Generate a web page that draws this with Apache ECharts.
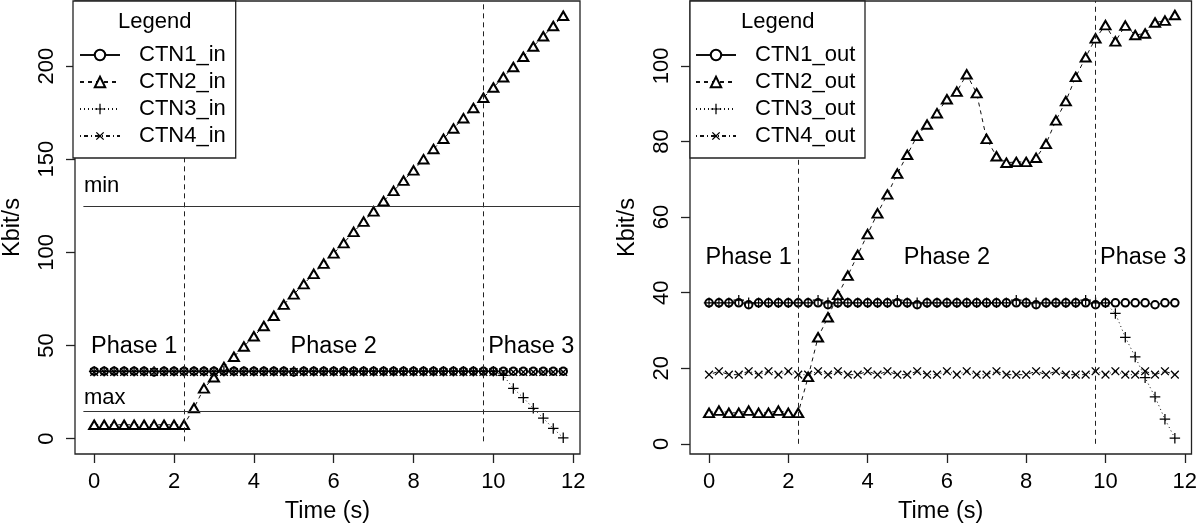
<!DOCTYPE html>
<html><head><meta charset="utf-8">
<script src="https://cdn.jsdelivr.net/npm/echarts@6/dist/echarts.min.js"></script>
<style>html,body{margin:0;padding:0;background:#fff}#c{width:1200px;height:529px}</style>
</head><body><div id="c"></div>
<script>
// ---------- data ----------
const time = [0,0.25,0.5,0.75,1,1.25,1.5,1.75,2,2.25,2.5,2.75,3,3.25,3.5,3.75,4,4.25,4.5,4.75,5,5.25,5.5,5.75,6,6.25,6.5,6.75,7,7.25,7.5,7.75,8,8.25,8.5,8.75,9,9.25,9.5,9.75,10,10.25,10.5,10.75,11,11.25,11.5,11.75];

const ctn1In = [36.2,36.2,36.2,36.2,36.2,36.2,35.8,36.2,36.2,36.2,36.2,36.2,36.2,36.2,36.2,36.2,36.2,36.2,36.2,36.2,35.8,36.2,36.2,36.2,36.2,36.2,36.2,36.2,36.2,36.2,36.2,36.2,36.2,36.2,36.2,36.2,36.2,36.2,36.2,36.2,36.2,36.2,36.2,36.2,36.2,36.2,36.2,36.2];
const ctn2In = [7.5,7.5,7.5,7.5,7.5,7.5,7.5,7.5,7.5,7.5,16.5,27,33,38.5,44,49.5,55,60.5,66,72,77.5,83,88.5,94,99.5,105,111,116.5,122,127.5,133,138.5,144,150,155.5,161,166.5,172,177.5,183,188.5,194,199.5,205,210.5,216,221.5,227];
const ctn3In = [36.2,36.2,36.2,36.2,36.2,36.2,36.2,36.2,36.2,36.2,36.2,36.2,36.2,36.2,36.2,36.2,36.2,36.2,36.2,36.2,36.2,36.2,36.2,36.2,36.2,36.2,36.2,36.2,36.2,36.2,36.2,36.2,36.2,36.2,36.2,36.2,36.2,36.2,36.2,36.2,36.2,34,27,22,16.3,11,5.5,0.5];
const ctn4In = [35.8,35.8,35.8,35.8,35.8,35.8,35.8,35.8,35.8,35.8,35.8,35.8,35.8,35.8,35.8,35.8,35.8,35.8,35.8,35.8,35.8,35.8,35.8,35.8,35.8,35.8,35.8,35.8,35.8,35.8,35.8,35.8,35.8,35.8,35.8,35.8,35.8,35.8,35.8,35.8,35.8,35.8,35.8,35.8,35.8,35.8,35.8,35.8];

const ctn1Out = [37.3,37.3,37.3,37.3,36.8,37.3,37.3,37.3,37.3,37.3,37.3,37.3,36.8,37.3,37.3,37.3,37.3,37.3,37.3,37.3,37.3,36.8,37.3,37.3,37.3,37.3,37.3,37.3,37.3,37.3,37.3,37.3,37.3,36.8,37.3,37.3,37.3,37.3,37.3,36.8,37.3,37.3,37.3,37.3,37.3,36.8,37.3,37.3];
const ctn2Out = [8.2,8.8,8.2,8.2,8.8,8.2,8.2,8.8,8.2,8.2,17.7,28.2,33.5,39.4,44.5,50,55.5,61,66,71.5,76.5,81.5,84.5,87.5,91.2,93.2,97.8,92.8,80.7,76.1,74.4,74.6,74.6,75.7,79.4,85.6,90.7,97.1,102.3,107.3,110.8,106.5,110.7,108.2,108.6,111.5,112,113.5];
const ctn3Out = [37.3,37.3,37.3,38.0,37.3,37.3,37.3,37.3,37.3,37.3,37.3,38.0,37.3,37.3,37.3,37.3,37.3,37.3,37.3,38.0,37.3,37.3,37.3,37.3,37.3,37.3,37.3,37.3,37.3,37.3,37.3,38.0,37.3,37.3,37.3,37.3,37.3,37.3,38.0,37.3,37.3,34.5,28.2,23,17.5,12.4,6.5,1.5];
const ctn4Out = [18.3,19.2,18.3,18.3,19.2,18.3,19.2,18.3,19.2,18.3,18.3,19.2,18.3,19.2,18.3,18.3,19.2,18.3,19.2,18.3,18.3,19.2,18.3,18.3,19.2,18.3,19.2,18.3,18.3,19.2,18.3,18.3,18.3,19.2,18.3,19.2,18.3,18.3,18.3,19.2,18.3,19.2,18.3,18.3,19.2,18.3,19.2,18.3];

const xTicks = [0,2,4,6,8,10,12];
const yTicksIn = [0,50,100,150,200];
const yTicksOut = [0,20,40,60,80,100];
const xRange = [-0.48, 12.17];
const yRangeIn = [-8.2, 234.9];
const yRangeOut = [-2.7, 117.2];

const namesIn = ['CTN1_in','CTN2_in','CTN3_in','CTN4_in'];
const namesOut = ['CTN1_out','CTN2_out','CTN3_out','CTN4_out'];
const phaseNames = ['Phase 1','Phase 2','Phase 3'];
const phaseCenters = [1, 6, 10.95];
const phaseLevel = 49.3;
const phaseBounds = [2.25, 9.75];
const thresholdNames = ['min','max'];
const thresholdValues = [125, 15];
const thresholdLabelValues = [135.5, 22];
const thresholdStart = -0.27;

// ---------- styles ----------
const FONT = '"Liberation Sans", Arial, Helvetica, sans-serif';
const INK = '#000';
const PLUS = 'path://M4.4,0H5.6V4.4H10V5.6H5.6V10H4.4V5.6H0V4.4H4.4Z';
const seriesStyles = [
  {symbol:'emptyCircle', symbolSize:7.5, rotate:0, dash:'solid', bw:1},
  {symbol:'emptyTriangle', symbolSize:[10,8.5], rotate:0, dash:[4,4], bw:1},
  {symbol:PLUS, symbolSize:10.5, rotate:0, dash:[1,3], bw:0},
  {symbol:PLUS, symbolSize:11, rotate:45, dash:[1,3,4,3], bw:0}
];

function makeSeries(names, arrays, gi) {
  return names.map((n, k) => ({
    name: n, type: 'line', xAxisIndex: gi, yAxisIndex: gi,
    data: time.map((t, i) => [t, arrays[k][i]]),
    symbol: seriesStyles[k].symbol, symbolSize: seriesStyles[k].symbolSize,
    symbolRotate: seriesStyles[k].rotate, showAllSymbol: true,
    lineStyle: {color: '#111', width: 1, type: seriesStyles[k].dash},
    itemStyle: {color: INK, borderColor: INK, borderWidth: seriesStyles[k].bw},
    emphasis: {disabled: true}, silent: true, animation: false, z: 2 + k * 0.01
  }));
}

const labelBase = {show: true, color: INK, fontFamily: FONT, textBorderWidth: 0, opacity: 1};

function phaseSeries(gi, yMax, withThresholds) {
  const lines = phaseBounds.map(b => [{coord: [b, gi === 0 ? -1.4 : 0]}, {coord: [b, yMax]}]);
  const labels = phaseNames.map((p, i) => ({value: [phaseCenters[i], phaseLevel], name: p}));
  const out = [{
    type: 'scatter', xAxisIndex: gi, yAxisIndex: gi, silent: true, animation: false,
    symbolSize: 1, itemStyle: {color: 'rgba(255,255,255,0)'},
    data: labels,
    label: Object.assign({}, labelBase, {position: 'inside', formatter: '{b}', fontSize: 23.5}),
    markLine: {silent: true, symbol: ['none','none'], animation: false, label: {show: false},
      lineStyle: {color: '#222', width: 1, type: [5,4]}, data: lines},
    z: 3
  }];
  if (withThresholds) {
    out.push({
      type: 'scatter', xAxisIndex: gi, yAxisIndex: gi, silent: true, animation: false,
      symbolSize: 1, itemStyle: {color: 'rgba(255,255,255,0)'},
      data: thresholdNames.map((n, i) => ({value: [thresholdStart, thresholdLabelValues[i]], name: n})),
      label: Object.assign({}, labelBase, {position: 'right', distance: 0, formatter: '{b}', fontSize: 22}),
      markLine: {silent: true, symbol: ['none','none'], animation: false, label: {show: false},
        lineStyle: {color: '#333', width: 1.2, type: 'solid'},
        data: thresholdValues.map(v => [{coord: [thresholdStart, v]}, {coord: [xRange[1], v]}])},
      z: 3
    });
  }
  return out;
}

function xAxis(gi) {
  return {
    type: 'value', gridIndex: gi, min: xRange[0], max: xRange[1],
    name: 'Time (s)', nameLocation: 'middle', nameGap: 46,
    nameTextStyle: {fontSize: 23.5, color: INK, fontFamily: FONT},
    axisLine: {show: false, onZero: false}, splitLine: {show: false},
    axisTick: {show: true, length: 9, customValues: xTicks, lineStyle: {color: '#222', width: 1.3}},
    axisLabel: {customValues: xTicks, margin: 17, fontSize: 22, color: INK, fontFamily: FONT}
  };
}
function yAxis(gi, range, ticks) {
  return {
    type: 'value', gridIndex: gi, min: range[0], max: range[1],
    name: 'Kbit/s', nameLocation: 'middle', nameGap: 50,
    nameTextStyle: {fontSize: 23.5, color: INK, fontFamily: FONT},
    axisLine: {show: false, onZero: false}, splitLine: {show: false},
    axisTick: {show: true, length: 9, customValues: ticks, lineStyle: {color: '#222', width: 1.3}},
    axisLabel: {customValues: ticks, rotate: 90, margin: 17, fontSize: 22, color: INK, fontFamily: FONT}
  };
}
function legend(names, left) {
  return {
    data: names, orient: 'vertical', left: left, top: 44, padding: 0,
    itemWidth: 40, itemHeight: 13, itemGap: 5, selectedMode: false, z: 20,
    textStyle: {fontSize: 22, color: INK, fontFamily: FONT, padding: [0,0,0,14]},
    inactiveColor: INK
  };
}

const chart = echarts.init(document.getElementById('c'), null, {renderer: 'canvas'});
chart.setOption({
  animation: false,
  backgroundColor: '#fff',
  grid: [
    {left: 73, top: 1, width: 507, height: 453, show: true, borderColor: '#222', borderWidth: 1.3, backgroundColor: 'transparent'},
    {left: 690, top: 1, width: 506, height: 453, show: true, borderColor: '#222', borderWidth: 1.3, backgroundColor: 'transparent'}
  ],
  xAxis: [xAxis(0), xAxis(1)],
  yAxis: [yAxis(0, yRangeIn, yTicksIn), yAxis(1, yRangeOut, yTicksOut)],
  title: [
    {text: 'Legend', left: 113, top: 6, z: 20, textStyle: {fontSize: 22, fontWeight: 'normal', color: INK, fontFamily: FONT}},
    {text: 'Legend', left: 736, top: 6, z: 20, textStyle: {fontSize: 22, fontWeight: 'normal', color: INK, fontFamily: FONT}}
  ],
  legend: [legend(namesIn, 79), legend(namesOut, 695)],
  graphic: [
    {type: 'rect', z: 10, shape: {x: 73, y: 1, width: 162.7, height: 157}, style: {fill: '#fff', stroke: '#222', lineWidth: 1.3}},
    {type: 'rect', z: 10, shape: {x: 690, y: 1, width: 175, height: 157}, style: {fill: '#fff', stroke: '#222', lineWidth: 1.3}}
  ],
  series: [].concat(
    makeSeries(namesIn, [ctn1In, ctn2In, ctn3In, ctn4In], 0),
    makeSeries(namesOut, [ctn1Out, ctn2Out, ctn3Out, ctn4Out], 1),
    phaseSeries(0, yRangeIn[1], true),
    phaseSeries(1, yRangeOut[1], false)
  )
});
</script></body></html>
